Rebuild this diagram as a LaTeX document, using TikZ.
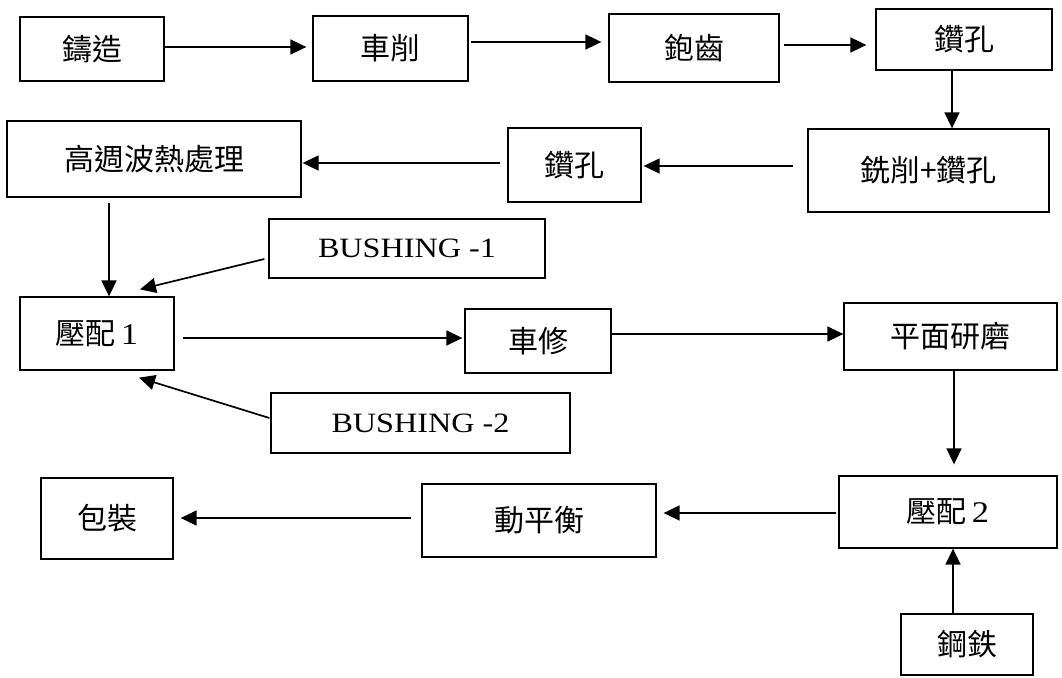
\documentclass[tikz,border=0pt]{standalone}
\usepackage{fontspec}
\newfontfamily\cjk{Noto Sans CJK TC}
\newfontfamily\latn{Liberation Serif}[FakeStretch=1.15]
\usetikzlibrary{arrows.meta,positioning}

\begin{document}
\begin{tikzpicture}[x=1pt, y=-1pt,
    procbox/.style={draw, rectangle, line width=1.3pt, inner sep=0pt, font=\fontsize{30}{34}\selectfont\cjk},
    partbox/.style={procbox, font=\fontsize{28}{32}\selectfont\latn},
    flow/.style={->, line width=1.7pt, >={Triangle[length=16pt,width=15pt]}}]
\useasboundingbox (0,0) rectangle (1062,677);

\node[procbox, minimum width=144pt, minimum height=64pt] (cast) at (92,49) {鑄造};
\node[procbox, minimum width=155pt, minimum height=65pt] (turn) at (390.5,48.5) {車削};
\node[procbox, minimum width=170pt, minimum height=68pt] (hob) at (694,48) {鉋齒};
\node[procbox, minimum width=176pt, minimum height=61pt] (drillA) at (964,39.5) {鑽孔};
%============
\node[procbox, minimum width=241pt, minimum height=83pt] (mill) at (928.5,170.5) {銑削+鑽孔};
\node[procbox, minimum width=133pt, minimum height=74pt] (drillB) at (574.5,165) {鑽孔};
\node[procbox, minimum width=294pt, minimum height=76pt] (heat) at (154,159) {高週波熱處理};
%============
\node[partbox, minimum width=276pt, minimum height=59pt] (bushA) at (407,248.5) {BUSHING -1};
\node[procbox, minimum width=154pt, minimum height=73pt] (press1) at (97,333.5) {壓配\,{\latn 1}};
\node[procbox, minimum width=146pt, minimum height=64pt] (trim) at (538,341) {車修};
\node[procbox, minimum width=213pt, minimum height=67pt] (grind) at (950.5,336.5) {平面研磨};
\node[partbox, minimum width=299pt, minimum height=60pt] (bushB) at (420.5,423) {BUSHING -2};
%============
\node[procbox, minimum width=218pt, minimum height=72pt] (press2) at (948,512) {壓配\,{\latn 2}};
\node[procbox, minimum width=234pt, minimum height=73pt] (balance) at (539,520.5) {動平衡};
\node[procbox, minimum width=132pt, minimum height=81pt] (pack) at (107,518.5) {包裝};
\node[procbox, minimum width=132pt, minimum height=61pt] (steel) at (967,644.5) {鋼鉄};
%==========

\draw[flow, shorten >=6pt] ([yshift=2pt]cast.east) -- ([yshift=2pt]cast.east -| turn.west);
\draw[flow, shorten <=2pt, shorten >=7pt] ([yshift=6.5pt]turn.east) -- ([yshift=6.5pt]turn.east -| hob.west);
\draw[flow, shorten <=4pt, shorten >=9pt] ([yshift=3pt]hob.east) -- ([yshift=3pt]hob.east -| drillA.west);
\draw[flow] ([xshift=-12pt]drillA.south) -- ([xshift=-12pt]drillA.south |- mill.north);
\draw[flow, shorten <=14pt, shorten >=2pt] ([yshift=4.5pt]mill.west) -- ([yshift=4.5pt]mill.west -| drillB.east);
\draw[flow, shorten <=7pt, shorten >=1pt] ([yshift=2pt]drillB.west) -- ([yshift=2pt]drillB.west -| heat.east);
\draw[flow, shorten <=5pt] ([xshift=-45pt]heat.south) -- ([xshift=-45pt]heat.south |- press1.north);

\draw[flow] ([xshift=-4pt,yshift=-10.5pt]bushA.west) -- ([xshift=43pt,yshift=7pt]press1.north);
\draw[flow] ([xshift=-1pt,yshift=5pt]bushB.west) -- ([xshift=42pt,yshift=-7pt]press1.south);
\draw[flow, shorten <=8pt, shorten >=2pt] ([yshift=-4.5pt]press1.east) -- ([yshift=-4.5pt]press1.east -| trim.west);
\draw[flow] ([yshift=7pt]trim.east) -- ([yshift=7pt]trim.east -| grind.west);
\draw[flow, shorten >=11pt] ([xshift=3.5pt]grind.south) -- ([xshift=3.5pt]grind.south |- press2.north);

\draw[flow] ([xshift=-14pt]steel.north) -- ([xshift=-14pt]steel.north |- press2.south);
\draw[flow, shorten <=2pt, shorten >=7pt] ([yshift=-1pt]press2.west) -- ([yshift=-1pt]press2.west -| balance.east);
\draw[flow, shorten <=10pt, shorten >=7pt] ([yshift=2.5pt]balance.west) -- ([yshift=2.5pt]balance.west -| pack.east);

\end{tikzpicture}
\end{document}
